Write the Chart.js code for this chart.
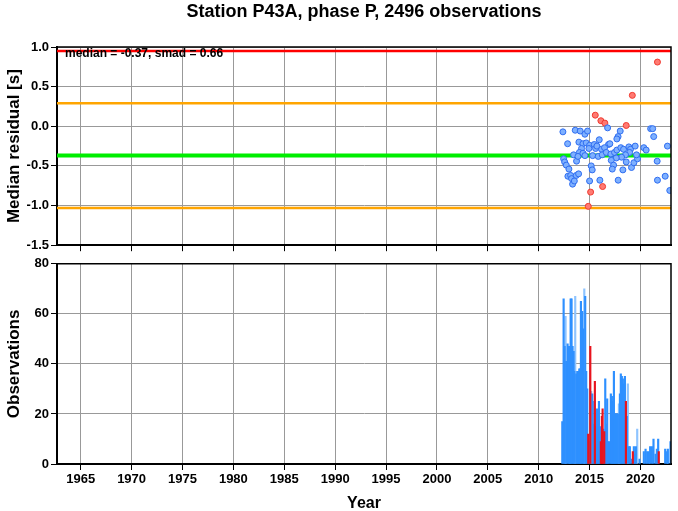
<!DOCTYPE html>
<html>
<head>
  <title>Station P43A residuals</title>
  <script src="https://cdn.jsdelivr.net/npm/chart.js@4.4.0/dist/chart.umd.min.js"></script>
  <style>
    body { margin: 0; background: #fff; }
    #wrap { position: relative; width: 678px; height: 511px; }
    canvas { position: absolute; left: 0; }
    #top { top: 0; }
    #bottom { top: 254px; }
  </style>
</head>
<body>
  <div id="wrap">
    <canvas id="top" width="678" height="255"></canvas>
    <canvas id="bottom" width="678" height="257"></canvas>
  </div>

  <script>
    // x range (years) and tick years
    const yearMin = 1962.67;
    const yearMax = 2023;
    const yearTicks = [1965, 1970, 1975, 1980, 1985, 1990, 1995, 2000, 2005, 2010, 2015, 2020];

    // summary stats shown in top panel
    const median = -0.37;
    const smad = 0.66;

    // median residual points (blue = inside, red = outliers)
    const blueYears = [2012.38, 2013.59, 2014.08, 2014.54, 2014.8, 2016.77, 2018.01, 2017.8, 2017.68, 2021.0,
      2021.2, 2021.3, 2022.65, 2012.84, 2013.95, 2014.35, 2014.67, 2015.0, 2015.46, 2015.95,
      2015.59, 2015.72, 2016.18, 2016.86, 2016.99, 2016.47, 2014.21, 2014.0, 2014.93, 2013.43,
      2013.72, 2013.86, 2014.35, 2014.54, 2015.3, 2015.85, 2016.24, 2016.64, 2017.09, 2017.45,
      2017.68, 2018.07, 2018.34, 2018.86, 2019.02, 2019.48, 2018.93, 2018.53, 2018.14, 2017.62,
      2017.13, 2017.36, 2017.23, 2018.27, 2018.6, 2019.12, 2019.35, 2019.71, 2019.61, 2020.33,
      2020.56, 2021.64, 2012.45, 2012.55, 2012.71, 2012.97, 2012.87, 2013.14, 2013.23, 2013.33,
      2013.5, 2013.69, 2013.92, 2015.16, 2015.26, 2015.0, 2016.01, 2017.81, 2021.67, 2022.43,
      2022.88];
    const blueValues = [-0.07, -0.05, -0.06, -0.10, -0.06, -0.02, -0.06, -0.13, -0.16, -0.03,
      -0.03, -0.13, -0.25, -0.22, -0.20, -0.22, -0.21, -0.24, -0.23, -0.17,
      -0.28, -0.25, -0.29, -0.23, -0.22, -0.27, -0.28, -0.33, -0.28, -0.36,
      -0.44, -0.38, -0.34, -0.37, -0.37, -0.38, -0.36, -0.33, -0.35, -0.33,
      -0.30, -0.27, -0.29, -0.26, -0.29, -0.25, -0.33, -0.36, -0.39, -0.40,
      -0.43, -0.49, -0.54, -0.55, -0.45, -0.52, -0.46, -0.41, -0.36, -0.27,
      -0.30, -0.44, -0.41, -0.45, -0.49, -0.54, -0.63, -0.62, -0.66, -0.73,
      -0.69, -0.62, -0.60, -0.50, -0.55, -0.69, -0.68, -0.68, -0.68, -0.63,
      -0.81];
    const redYears = [2015.56, 2016.11, 2016.5, 2018.6, 2016.28, 2015.1, 2014.87, 2021.67, 2019.2];
    const redValues = [0.14, 0.07, 0.04, 0.01, -0.76, -0.83, -1.01, 0.81, 0.39];

    // observation counts per bin
    const darkYears = [2012.32, 2012.45, 2012.55, 2012.71, 2012.84, 2012.97, 2013.07, 2013.14, 2013.23, 2013.33,
      2013.43, 2013.50, 2013.69, 2013.79, 2013.89, 2013.99, 2014.08, 2014.15, 2014.28, 2014.38,
      2014.57, 2014.67, 2014.77, 2014.97, 2015.26, 2015.36, 2015.46, 2015.62, 2015.72, 2015.82,
      2015.92, 2016.01, 2016.37, 2016.54, 2016.64, 2016.73, 2016.83, 2016.96, 2017.09, 2017.19,
      2017.29, 2017.39, 2017.49, 2017.58, 2017.68, 2017.78, 2017.98, 2018.07, 2018.17, 2018.27,
      2018.37, 2018.47, 2018.66, 2018.86, 2018.96, 2019.12, 2019.35, 2019.45, 2019.55, 2019.91,
      2020.33, 2020.50, 2020.66, 2020.82, 2020.95, 2021.12, 2021.28, 2021.48, 2021.61, 2021.74,
      2022.43, 2022.62, 2022.69, 2022.95];
    const darkCounts = [17, 66, 47, 41, 48, 47, 32, 66, 66, 47,
      45, 37, 36, 37, 37, 38, 38, 65, 61, 54,
      67, 37, 30, 9, 28, 16, 25, 15, 22, 15,
      25, 15, 14, 34, 16, 26, 9, 9, 28, 27,
      25, 37, 20, 20, 20, 20, 28, 36, 35, 34,
      32, 35, 19, 7, 7, 2, 7, 4, 7, 2,
      5, 6, 5, 5, 7, 7, 10, 4, 6, 10,
      6, 5, 6, 9];
    const lightYears = [2012.64, 2013.59, 2014.48, 2015.16, 2017.88, 2018.76, 2019.68];
    const lightCounts = [59, 67, 70, 29, 24, 32, 14];
    const redBarYears = [2014.87, 2015.07, 2015.52, 2016.11, 2016.21, 2016.28, 2016.44, 2018.57, 2019.25, 2021.80];
    const redBarCounts = [12, 47, 33, 9, 19, 22, 13, 25, 5, 5];

    Chart.defaults.font.family = '"Liberation Sans", Arial, sans-serif';
    Chart.defaults.font.weight = 'bold';
    Chart.defaults.color = '#000';
    Chart.defaults.animation = false;

    const toXY = (xs, ys) => xs.map((x, i) => ({ x: x, y: ys[i] }));
    const hline = v => [{ x: yearMin, y: v }, { x: yearMax, y: v }];

    const setYearTicks = scale => {
      scale.ticks = yearTicks.map(v => ({ value: v }));
    };

    // black frame on top and right of the plot area
    const framePlugin = {
      id: 'frame',
      afterDraw(chart) {
        const { ctx, chartArea: a } = chart;
        ctx.save();
        ctx.strokeStyle = '#000';
        ctx.lineWidth = 1.5;
        ctx.beginPath();
        ctx.moveTo(a.left, a.top);
        ctx.lineTo(a.right, a.top);
        ctx.lineTo(a.right, a.bottom);
        ctx.stroke();
        ctx.restore();
      }
    };

    // title and stats text
    const textPlugin = {
      id: 'texts',
      afterDraw(chart) {
        const { ctx, chartArea: a } = chart;
        ctx.save();
        ctx.fillStyle = '#000';
        ctx.textBaseline = 'middle';
        ctx.font = 'bold 18px "Liberation Sans", Arial, sans-serif';
        ctx.textAlign = 'center';
        ctx.fillText('Station P43A, phase P, 2496 observations', (a.left + a.right) / 2, 12);
        ctx.font = 'bold 12px "Liberation Sans", Arial, sans-serif';
        ctx.textAlign = 'left';
        ctx.fillText('median = ' + median.toFixed(2) + ', smad = ' + smad.toFixed(2), a.left + 8, 54);
        ctx.restore();
      }
    };

    const gridStyle = { color: '#999', lineWidth: 1, tickLength: 6, tickColor: '#000' };

    // top panel: median residual
    new Chart(document.getElementById('top'), {
      type: 'scatter',
      data: {
        datasets: [
          { type: 'line', data: hline(median + 2 * smad), borderColor: '#ff0000', borderWidth: 2.5, pointRadius: 0, order: 2 },
          { type: 'line', data: hline(median + smad), borderColor: '#ffa500', borderWidth: 2.5, pointRadius: 0, order: 2 },
          { type: 'line', data: hline(median - smad), borderColor: '#ffa500', borderWidth: 2.5, pointRadius: 0, order: 2 },
          { type: 'line', data: hline(median), borderColor: '#00ee00', borderWidth: 4, pointRadius: 0, order: 2 },
          { data: toXY(blueYears, blueValues), backgroundColor: '#7eb0ff', borderColor: '#2f6df0', borderWidth: 1, pointRadius: 3, order: 1 },
          { data: toXY(redYears, redValues), backgroundColor: '#ff7a72', borderColor: '#f03a30', borderWidth: 1, pointRadius: 3, order: 1 }
        ]
      },
      options: {
        responsive: false,
        layout: { padding: { top: 47, right: 7, left: 0, bottom: 0 } },
        plugins: { legend: { display: false }, tooltip: { enabled: false } },
        scales: {
          x: {
            type: 'linear', min: yearMin, max: yearMax,
            afterBuildTicks: setYearTicks,
            afterFit: s => { s.height = 8; },
            ticks: { display: false },
            grid: gridStyle,
            border: { color: '#000', width: 2 }
          },
          y: {
            min: -1.5, max: 1.0,
            afterFit: s => { s.width = 57; },
            ticks: { stepSize: 0.5, padding: 2, font: { size: 13, weight: 'bold' }, callback: v => v.toFixed(1) },
            grid: gridStyle,
            border: { color: '#000', width: 2 },
            title: { display: true, text: 'Median residual [s]', font: { size: 17, weight: 'bold' }, padding: { top: 4, bottom: 0 } }
          }
        }
      },
      plugins: [framePlugin, textPlugin]
    });

    // bottom panel: observation counts
    const barOpts = { barThickness: 1.5, grouped: false, borderWidth: 0 };
    new Chart(document.getElementById('bottom'), {
      type: 'bar',
      data: {
        datasets: [
          Object.assign({ data: toXY(lightYears, lightCounts), backgroundColor: '#8ec4ff', order: 3 }, barOpts),
          Object.assign({ data: toXY(darkYears, darkCounts), backgroundColor: '#2e90ff', order: 2 }, barOpts),
          Object.assign({ data: toXY(redBarYears, redBarCounts), backgroundColor: '#e8141e', order: 1 }, barOpts)
        ]
      },
      options: {
        responsive: false,
        layout: { padding: { top: 7, right: 7, left: 0, bottom: 0 } },
        plugins: { legend: { display: false }, tooltip: { enabled: false } },
        scales: {
          x: {
            type: 'linear', min: yearMin, max: yearMax, offset: false,
            afterBuildTicks: setYearTicks,
            afterFit: s => { s.height = 47; },
            ticks: { padding: 2, font: { size: 13, weight: 'bold' }, callback: v => String(v) },
            grid: Object.assign({}, gridStyle, { offset: false }),
            border: { color: '#000', width: 2 },
            title: { display: true, text: 'Year', font: { size: 16, weight: 'bold' }, padding: { top: 4, bottom: -2 } }
          },
          y: {
            min: 0, max: 80,
            afterFit: s => { s.width = 57; },
            ticks: { stepSize: 20, padding: 2, font: { size: 13, weight: 'bold' } },
            grid: gridStyle,
            border: { color: '#000', width: 2 },
            title: { display: true, text: 'Observations', font: { size: 17, weight: 'bold' }, padding: { top: 4, bottom: 0 } }
          }
        }
      },
      plugins: [framePlugin]
    });
  </script>
</body>
</html>
